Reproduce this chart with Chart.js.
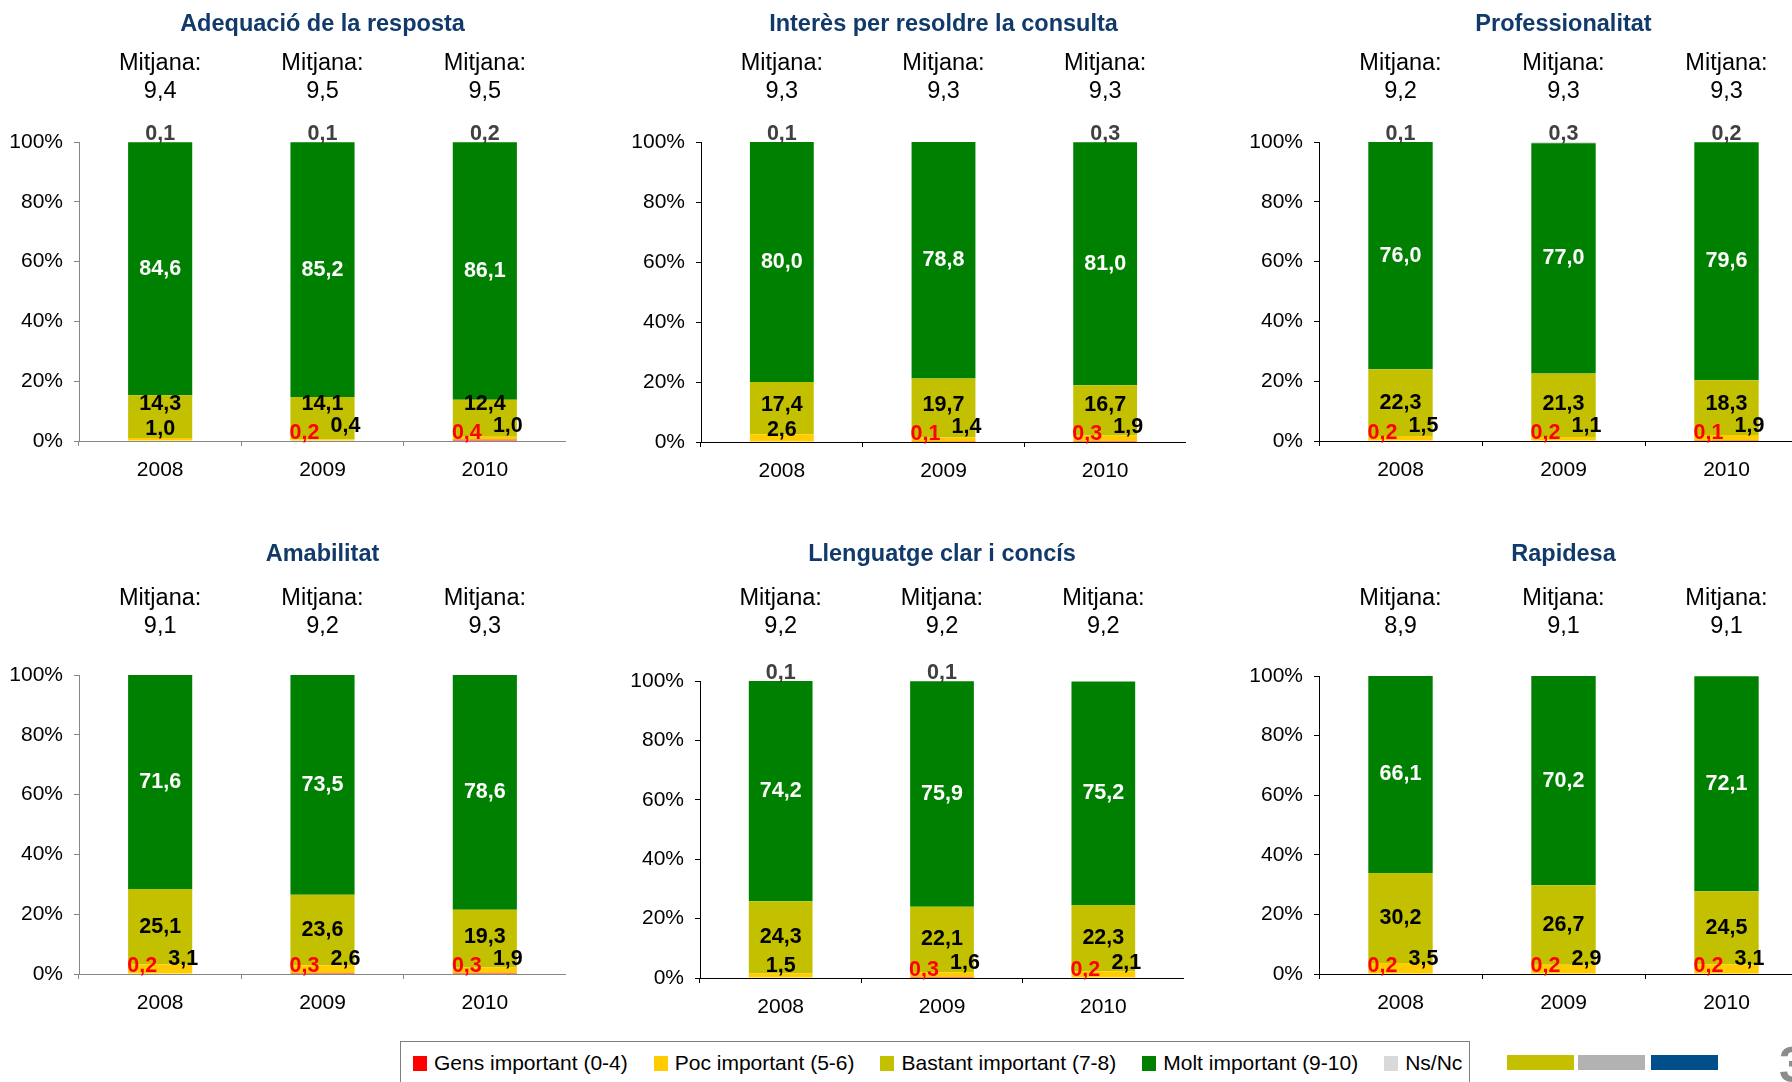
<!DOCTYPE html>
<html lang="ca">
<head>
<meta charset="UTF-8">
<title>Valoració de l'atenció rebuda</title>
<script src="https://cdn.jsdelivr.net/npm/chart.js"></script>
<style>
    body {
        margin: 0;
        width: 1792px;
        height: 1082px;
        overflow: hidden;
        background: #fff;
        position: relative;
        font-family: "Liberation Sans", Arial, sans-serif;
    }

    .panel {
        position: absolute;
    }

    .llegenda {
        position: absolute;
        left: 400px;
        top: 1041px;
        width: 1070px;
        height: 70px;
        border: 1px solid #7f7f7f;
        box-sizing: border-box;
        padding: 9px 0 0 12px;
        display: flex;
        align-items: flex-start;
        font-size: 21px;
        line-height: 24px;
        color: #000;
        white-space: nowrap;
    }

    .llegenda .item {
        display: flex;
        align-items: center;
        flex-shrink: 0;
        margin-right: 26px;
    }

    .llegenda i {
        display: inline-block;
        width: 14px;
        height: 15px;
        margin-right: 7px;
    }

    .barra {
        position: absolute;
        top: 1055px;
        height: 15px;
    }

    .pagina {
        position: absolute;
        left: 1779px;
        top: 1036px;
        font-size: 50px;
        font-weight: bold;
        color: #8c8c8c;
    }
</style>
</head>

<body>
    <div id="grafics"></div>
    <div class="llegenda" id="llegenda"></div>
    <div class="barra" style="left:1507px; width:67px; background:#c4c000;"></div>
    <div class="barra" style="left:1578px; width:67px; background:#b2b2b2;"></div>
    <div class="barra" style="left:1651px; width:67px; background:#004e8a;"></div>
    <div class="pagina">3</div>

<script>
    // Dades
    const anys = ['2008', '2009', '2010'];

    const titols = [
        'Adequació de la resposta',
        'Interès per resoldre la consulta',
        'Professionalitat',
        'Amabilitat',
        'Llenguatge clar i concís',
        'Rapidesa'
    ];

    const mitjanes = [
        ['9,4', '9,5', '9,5'],
        ['9,3', '9,3', '9,3'],
        ['9,2', '9,3', '9,3'],
        ['9,1', '9,2', '9,3'],
        ['9,2', '9,2', '9,2'],
        ['8,9', '9,1', '9,1']
    ];

    const nomsSeries = ['Gens important (0-4)', 'Poc important (5-6)', 'Bastant important (7-8)', 'Molt important (9-10)', 'Ns/Nc'];

    // un array per panell, valors per any
    const gens = [[0, 0.2, 0.4], [0, 0.1, 0.3], [0.2, 0.2, 0.1], [0.2, 0.3, 0.3], [0, 0.3, 0.2], [0.2, 0.2, 0.2]];
    const poc = [[1.0, 0.4, 1.0], [2.6, 1.4, 1.9], [1.5, 1.1, 1.9], [3.1, 2.6, 1.9], [1.5, 1.6, 2.1], [3.5, 2.9, 3.1]];
    const bastant = [[14.3, 14.1, 12.4], [17.4, 19.7, 16.7], [22.3, 21.3, 18.3], [25.1, 23.6, 19.3], [24.3, 22.1, 22.3], [30.2, 26.7, 24.5]];
    const molt = [[84.6, 85.2, 86.1], [80.0, 78.8, 81.0], [76.0, 77.0, 79.6], [71.6, 73.5, 78.6], [74.2, 75.9, 75.2], [66.1, 70.2, 72.1]];
    const nsnc = [[0.1, 0.1, 0.2], [0.1, 0, 0.3], [0.1, 0.3, 0.2], [0, 0, 0], [0.1, 0.1, 0], [0, 0, 0]];

    const yTicks = [0, 20, 40, 60, 80, 100];

    // Estil
    const series = [gens, poc, bastant, molt, nsnc];
    const colors = ['#ff0000', '#ffcc00', '#c3c000', '#008000', '#d9d9d9'];
    const colorsEtiqueta = ['#ff0000', '#000000', '#000000', '#ffffff', '#404040'];
    const colorsEix = ['#868686', '#000', '#000', '#868686', '#000', '#000'];
    const font = '"Liberation Sans", Arial, sans-serif';

    // area de dibuix de cada panell: esquerra, dalt, dreta, baix, fila
    // (la columna de la dreta queda tallada per la vora de la pagina)
    const caixes = [
        [79, 142, 566, 441, 0],
        [701, 142, 1186, 442, 0],
        [1319, 142, 1808, 441, 0],
        [79, 675, 566, 974, 1],
        [700, 681, 1184, 978, 1],
        [1319, 676, 1808, 974, 1]
    ];
    const ampleEixY = 79;
    const origenFila = [0, 520];
    const titolY = [25, 555];
    const mitjanaY = [90, 625];

    const fmt = v => v.toFixed(1).replace('.', ',');

    // etiquetes de valor dins i al voltant de les barres
    const etiquetes = {
        id: 'etiquetes',
        afterDatasetsDraw(chart) {
            const ctx = chart.ctx;
            const zero = chart.scales.y.getPixelForValue(0);
            const cim = chart.scales.y.getPixelForValue(100);
            ctx.save();
            ctx.font = 'bold 21.5px ' + font;
            ctx.textAlign = 'center';
            ctx.textBaseline = 'middle';
            chart.data.datasets.forEach((ds, i) => {
                chart.getDatasetMeta(i).data.forEach((bar, j) => {
                    const v = ds.data[j];
                    if (!v) return;
                    const ambGens = chart.data.datasets[0].data[j] > 0;
                    let x = bar.x;
                    let y = (bar.y + bar.base) / 2;
                    if (i === 0) {
                        x -= 18;
                        y = zero - 8;
                    } else if (i === 1) {
                        if (ambGens) x += 23;
                        y = zero - (ambGens ? 15 : 12);
                    } else if (i === 2) {
                        y = Math.min(y, zero - 37);
                    } else if (i === 4) {
                        y = cim - 8;
                    }
                    ctx.fillStyle = colorsEtiqueta[i];
                    ctx.fillText(fmt(v), x, y);
                });
            });
            ctx.restore();
        }
    };

    const contenidor = document.getElementById('grafics');

    titols.forEach((titol, p) => {
        const [l, t, r, b, fila] = caixes[p];
        const top0 = origenFila[fila];
        const eix = colorsEix[p];

        const div = document.createElement('div');
        div.className = 'panel';
        div.style.left = (l - ampleEixY) + 'px';
        div.style.top = top0 + 'px';
        const canvas = document.createElement('canvas');
        canvas.width = r - l + ampleEixY;
        canvas.height = b - top0 + 55;
        div.appendChild(canvas);
        contenidor.appendChild(div);

        new Chart(canvas.getContext('2d'), {
            type: 'bar',
            data: {
                labels: anys,
                datasets: series.map((s, i) => ({
                    label: nomsSeries[i],
                    data: s[p],
                    backgroundColor: colors[i],
                    borderWidth: 0,
                    barPercentage: 0.395,
                    categoryPercentage: 1
                }))
            },
            options: {
                responsive: false,
                animation: false,
                layout: { padding: 0 },
                plugins: {
                    legend: { display: false },
                    tooltip: { enabled: false },
                    title: { display: false }
                },
                scales: {
                    x: {
                        stacked: true,
                        offset: true,
                        grid: { offset: true, drawOnChartArea: false, tickLength: 5, color: eix },
                        border: { color: eix },
                        ticks: { font: { size: 21, family: font }, color: '#000', padding: 12, maxRotation: 0, autoSkip: false },
                        afterFit: s => { s.height = 55; }
                    },
                    x2: {
                        type: 'category',
                        position: 'top',
                        offset: true,
                        grid: { display: false },
                        border: { display: false },
                        ticks: {
                            callback: (v, i) => ['Mitjana:', mitjanes[p][i]],
                            font: { size: 23.5, family: font, lineHeight: 28 / 23.5 },
                            color: '#000',
                            padding: t - mitjanaY[fila] - 24,
                            maxRotation: 0,
                            autoSkip: false
                        },
                        title: {
                            display: true,
                            text: titol,
                            color: '#113a6b',
                            font: { size: 23.5, weight: 'bold', family: font, lineHeight: 1.2 },
                            padding: { top: titolY[fila] - top0 - 14.1, bottom: 0 }
                        },
                        afterFit: s => { s.height = t - top0; }
                    },
                    y: {
                        stacked: true,
                        min: 0,
                        max: 100,
                        afterBuildTicks: s => { s.ticks = yTicks.map(v => ({ value: v })); },
                        ticks: { callback: v => v + '%', font: { size: 21, family: font }, color: '#000', padding: 11 },
                        grid: { drawOnChartArea: false, tickLength: 5, color: eix },
                        border: { color: eix },
                        afterFit: s => { s.width = ampleEixY; }
                    }
                }
            },
            plugins: [etiquetes]
        });
    });

    // llegenda
    const llegenda = document.getElementById('llegenda');
    nomsSeries.forEach((nom, i) => {
        const item = document.createElement('span');
        item.className = 'item';
        const quadre = document.createElement('i');
        quadre.style.background = colors[i];
        item.appendChild(quadre);
        item.appendChild(document.createTextNode(nom));
        llegenda.appendChild(item);
    });
</script>
</body>

</html>
